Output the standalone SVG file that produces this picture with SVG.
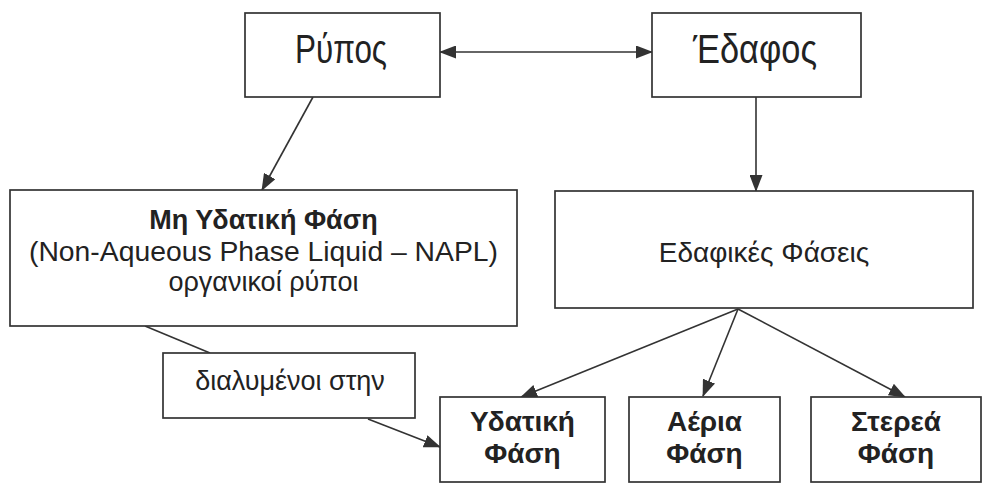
<svg xmlns="http://www.w3.org/2000/svg" width="984" height="484" viewBox="0 0 984 484">
<defs>
<marker id="ah" viewBox="0 0 17 13" refX="16" refY="6.5" markerWidth="17" markerHeight="13" markerUnits="userSpaceOnUse" orient="auto-start-reverse">
<path d="M0,0 L17,6.5 L0,13 Z" fill="#333"/>
</marker>
<style>
.box{fill:#fff;stroke:#333;stroke-width:1.7}
.t{font-family:"Liberation Sans",Arial,sans-serif;fill:#222;text-anchor:middle}
.b{font-weight:bold}
.c{stroke:#333;stroke-width:1.6;fill:none}
</style>
</defs>
<rect width="984" height="484" fill="#fff"/>
<g id="connectors">
<line class="c" x1="440" y1="52" x2="652" y2="52" marker-start="url(#ah)" marker-end="url(#ah)"/>
<line class="c" x1="313" y1="97" x2="262" y2="190" marker-end="url(#ah)"/>
<line class="c" x1="756" y1="97" x2="756" y2="191" marker-end="url(#ah)"/>
<line class="c" x1="145" y1="326" x2="210" y2="353"/>
<line class="c" x1="368" y1="419" x2="440" y2="447" marker-end="url(#ah)"/>
<line class="c" x1="738" y1="309" x2="521" y2="397" marker-end="url(#ah)"/>
<line class="c" x1="738" y1="309" x2="703" y2="396" marker-end="url(#ah)"/>
<line class="c" x1="738" y1="309" x2="905" y2="397" marker-end="url(#ah)"/>
</g>
<g id="rypos">
<rect class="box" x="245" y="13" width="195" height="84"/>
<text class="t" x="341" y="63" font-size="40" textLength="92" lengthAdjust="spacingAndGlyphs">Ρύπος</text>
</g>
<g id="edafos">
<rect class="box" x="652" y="13" width="209" height="84"/>
<text class="t" x="755" y="63" font-size="40" textLength="124" lengthAdjust="spacingAndGlyphs">Έδαφος</text>
</g>
<g id="napl">
<rect class="box" x="10" y="190" width="507" height="136"/>
<text class="t b" x="263.5" y="229" font-size="27">Μη Υδατική Φάση</text>
<text class="t" x="263.5" y="261" font-size="28" textLength="469" lengthAdjust="spacingAndGlyphs">(Non-Aqueous Phase Liquid – NAPL)</text>
<text class="t" x="263.5" y="291" font-size="27">οργανικοί ρύποι</text>
</g>
<g id="edafikes">
<rect class="box" x="555" y="191" width="418" height="117"/>
<text class="t" x="764" y="262" font-size="28">Εδαφικές Φάσεις</text>
</g>
<g id="dialymenoi">
<rect class="box" x="163" y="353" width="252" height="65"/>
<text class="t" x="290" y="390" font-size="27">διαλυμένοι στην</text>
</g>
<g id="ydatiki">
<rect class="box" x="440" y="397" width="165" height="85"/>
<text class="t b" x="522.5" y="431" font-size="28">Υδατική</text>
<text class="t b" x="522.5" y="463" font-size="28">Φάση</text>
</g>
<g id="aeria">
<rect class="box" x="629" y="397" width="151" height="85"/>
<text class="t b" x="704.5" y="431" font-size="28">Αέρια</text>
<text class="t b" x="704.5" y="463" font-size="28">Φάση</text>
</g>
<g id="sterea">
<rect class="box" x="811" y="397" width="170" height="85"/>
<text class="t b" x="896" y="431" font-size="28">Στερεά</text>
<text class="t b" x="896" y="463" font-size="28">Φάση</text>
</g>
</svg>
